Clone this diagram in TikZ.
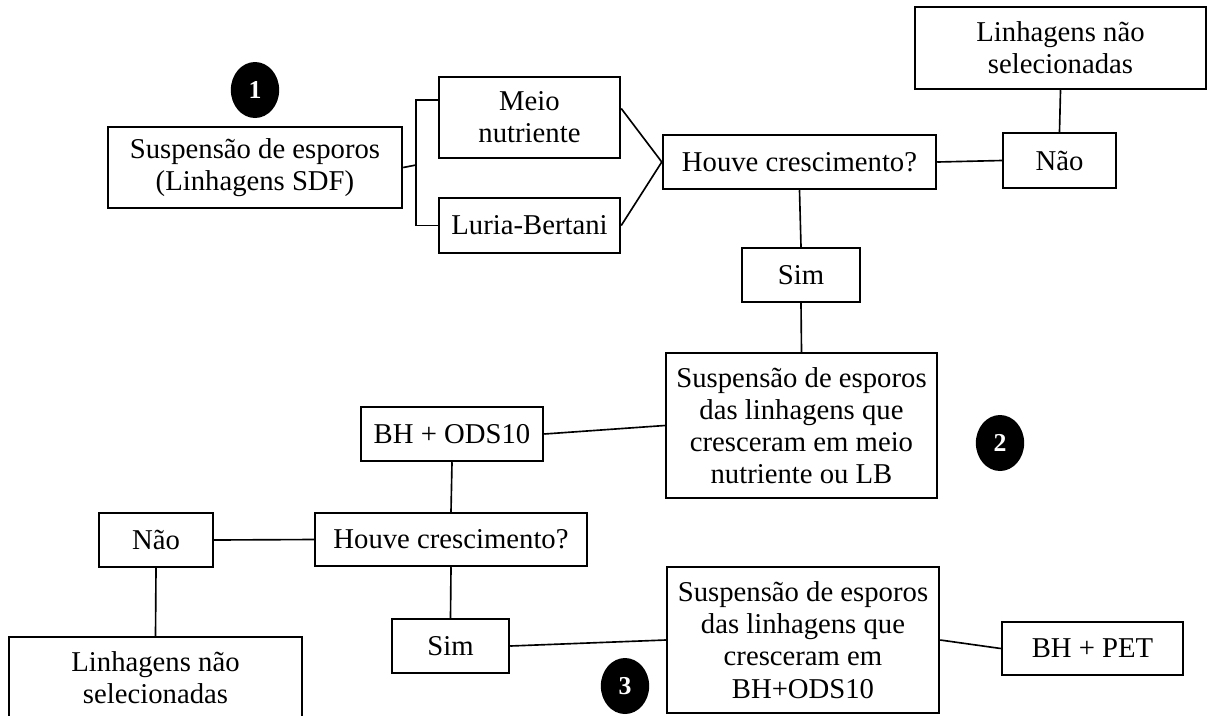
\documentclass[tikz,border=0pt]{standalone}
\usepackage{fontspec}
\setmainfont{Liberation Serif}
\usepackage{tikz}
\usetikzlibrary{shapes.geometric}

\tikzset{
	caixa/.style 2 args={draw,line width=2.1pt,align=center,inner sep=0pt,minimum width=#1*0.03cm,minimum height=#2*0.03cm,font=\fontsize{24.5}{27.5}\selectfont},
	bola/.style={ellipse,fill=black,text=white,inner sep=0pt,minimum width=1.45cm,minimum height=1.68cm,font=\fontsize{22}{22}\selectfont\bfseries},
	liga/.style={line width=1.4pt}
}

\begin{document}
\begin{tikzpicture}[x=0.03cm,y=-0.03cm]
			\useasboundingbox (0,0) rectangle (1207,715);
			\coordinate (f) at (416,165);
			\coordinate (mt) at (439,100);
			\node [caixa={294}{81}] (sdf) at (255,167.5) {Suspensão de esporos\\(Linhagens SDF)};
			\node [caixa={181}{81}] (meio) at (529.5,117.5) {Meio\\nutriente};
			\node [caixa={181}{55}] (lb) at (529.5,225.5) {Luria-Bertani};
			\node [caixa={273}{54}] (h1) at (799.5,162) {Houve crescimento?};
			\node [caixa={113}{55}] (n1) at (1059.5,160.5) {Não};
			\node [caixa={291}{82}] (l1) at (1060.5,48) {Linhagens não\\selecionadas};
			\node [caixa={118}{54}] (s1) at (801,275) {Sim};
			\node [caixa={271}{145}] (e2) at (801.5,425.5) {Suspensão de esporos\\das linhagens que\\cresceram em meio\\nutriente ou LB};
			\node [caixa={182}{54}] (ods) at (452,434) {BH + ODS10};
			\node [caixa={272}{53}] (h2) at (451,539.5) {Houve crescimento?};
			\node [caixa={114}{54}] (n2) at (156,540) {Não};
			\node [caixa={293}{82}] (l2) at (155.5,678) {Linhagens não\\selecionadas};
			\node [caixa={117}{54}] (s2) at (450.5,646) {Sim};
			\node [caixa={272}{146}] (e3) at (803,640) {Suspensão de esporos\\das linhagens que\\cresceram em\\BH+ODS10};
			\node [caixa={181}{53}] (pet) at (1092.5,648.5) {BH + PET};
			\draw [liga] (sdf.east) -- (f);
			\draw [liga] (mt) -| (f) |- (lb.west);
			\draw [liga] ([yshift=0.27cm]meio.east) -- (h1.west) -- (lb.east);
			\draw [liga] (h1.east) -- (n1.west);
			\draw [liga] (n1.north) -- (l1.south);
			\draw [liga] (h1.south) -- (s1.north);
			\draw [liga] (s1.south) -- (e2.north);
			\draw [liga] (ods.east) -- (e2.west);
			\draw [liga] (ods.south) -- (h2.north);
			\draw [liga] (h2.west) -- (n2.east);
			\draw [liga] (n2.south) -- (l2.north);
			\draw [liga] (h2.south) -- (s2.north);
			\draw [liga] (s2.east) -- (e3.west);
			\draw [liga] (e3.east) -- (pet.west);
			\foreach \Num/\X/\Y in {1/255/90,2/1000/443,3/625/686}
				\node [bola] (b\Num) at (\X,\Y) {\Num};
		\end{tikzpicture}
\end{document}
